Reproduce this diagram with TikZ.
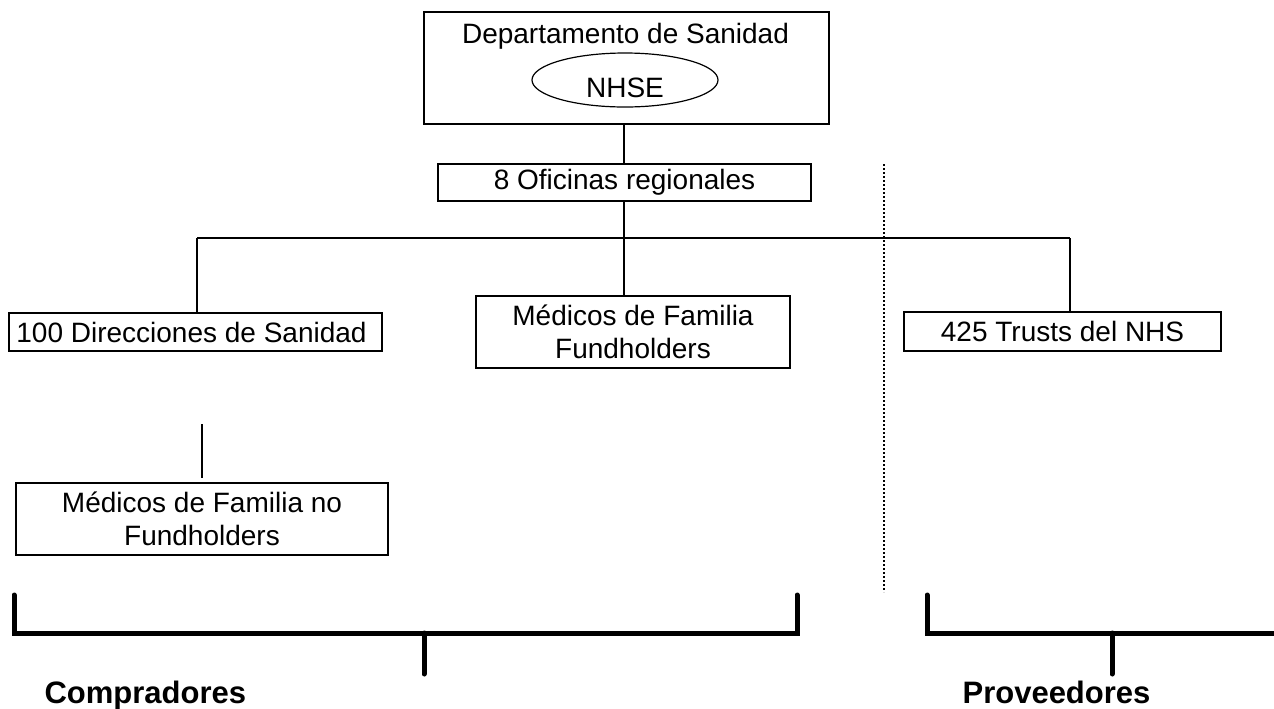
\documentclass[tikz,border=0pt]{standalone}
\usepackage{fontspec}
\setmainfont{Liberation Sans}
\usetikzlibrary{shapes.geometric}

\tikzset{
  caja/.style={draw,inner sep=0pt,align=center,font=\fontsize{14}{16.5}\selectfont},
  texto/.style={font=\fontsize{14}{16.5}\selectfont,inner sep=0pt},
  llave/.style={line width=2.5pt,line cap=round,line join=miter},
  rotulo/.style={font=\bfseries\fontsize{15.5}{18}\selectfont,anchor=base west,inner sep=0pt}
}

\begin{document}
\begin{tikzpicture}[x=0.5pt,y=-0.5pt,line width=0.6pt]
  \useasboundingbox (0,0) rectangle (1274,708);
  % cabecera
  \node[caja,minimum width=202.5pt,minimum height=56pt] (dep) at (626.5,68) {};
  \node[texto,anchor=base] (deptxt) at (625.5,43) {Departamento de Sanidad};
  \node[draw,ellipse,minimum width=93pt,minimum height=27pt] (nhse) at (625,80) {};
  \node[texto,anchor=base] (nhsetxt) at (625,97) {NHSE};
  \node[caja,minimum width=186.5pt,minimum height=18.5pt] (ofi) at (624.5,182.5) {8 Oficinas regionales};
  % segundo nivel
  \node[caja,minimum width=186.5pt,minimum height=19pt] (dir) at (195.5,332) {100 Direcciones de Sanidad\hspace{4pt}};
  \node[caja,minimum width=157pt,minimum height=36pt] (mfh) at (633,332) {M\'edicos de Familia\\Fundholders};
  \node[caja,minimum width=158.5pt,minimum height=19.5pt] (nhs) at (1062.5,331.5) {425 Trusts del NHS};
  \node[caja,minimum width=186pt,minimum height=36pt] (mnf) at (202,519) {M\'edicos de Familia no\\Fundholders};
  % conexiones
  \coordinate (bajada) at (624,238);
  \coordinate (busI) at (197,238);
  \coordinate (busD) at (1070,238);
  \coordinate (libre) at (202,424);
  \draw (bajada |- dep.south) -- (bajada |- ofi.north);
  \draw (bajada |- ofi.south) -- (bajada);
  \draw (busI) -- (busD);
  \draw (busI) -- (busI |- dir.north);
  \draw (bajada) -- (bajada |- mfh.north);
  \draw (busD) -- (busD |- nhs.north);
  \draw (libre) -- ([yshift=2pt]mnf.north);
  % separador
  \coordinate (sepA) at (884,164);
  \coordinate (sepB) at (884,592);
  \draw[line width=0.9pt,dash pattern=on 0.9pt off 1.1pt] (sepA) -- (sepB);
  % llaves
  \draw[llave] (14,595) -- (14,633) -- (797,633) -- (797,595);
  \draw[llave] (424,633) -- (424,674);
  \draw[llave] (927,595) -- (927,633) -- (1285,633);
  \draw[llave] (1112,633) -- (1112,674);
  \node[rotulo] (compra) at (44,703) {Compradores};
  \node[rotulo] (prov) at (962,703) {Proveedores};
\end{tikzpicture}
\end{document}
